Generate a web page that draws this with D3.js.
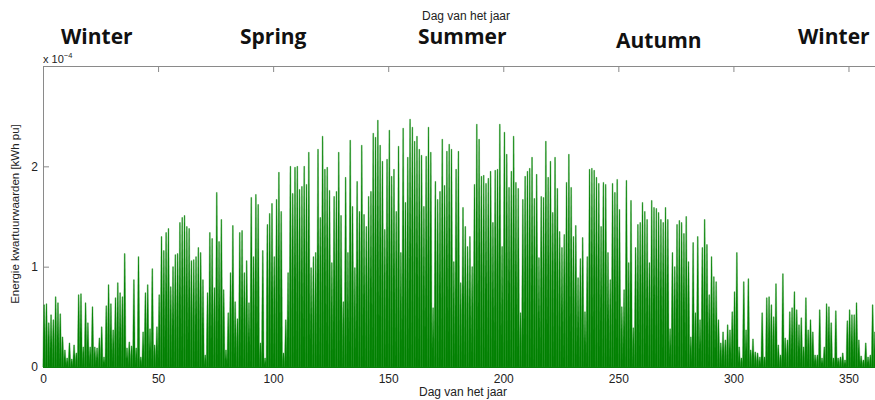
<!DOCTYPE html>
<html>
<head>
<meta charset="utf-8">
<script src="https://cdn.jsdelivr.net/npm/d3@7"></script>
<style>
  body { margin: 0; background: #fff; }
  svg { display: block; }
  .axis text { font-family: "Liberation Sans", Arial, sans-serif; font-size: 12px; fill: #222; }
  .axis path, .axis line { stroke: #8a8a8a; }
  .season { font-family: "Open Sans", sans-serif; font-weight: 700; font-size: 21px; fill: #111; }
  .lbl { font-family: "Liberation Sans", Arial, sans-serif; fill: #222; }
</style>
</head>
<body>
<svg width="875" height="400"></svg>
<script>
// daily peak energy, units of 1e-4 kWh pu
// days 0-70
let peaks1 = [0.62,0.63,0.44,0.52,0.47,0.70,0.64,0.53,0.30,0.17,
  0.09,0.24,0.08,0.22,0.14,0.72,0.73,0.20,0.64,0.44,
  0.20,0.60,0.20,0.19,0.29,0.40,0.10,0.61,0.82,0.63,
  0.37,0.69,0.84,0.74,0.70,1.13,0.19,0.25,0.21,0.87,
  0.19,1.10,0.10,0.35,0.74,0.82,0.38,0.98,0.22,0.40,
  0.72,1.30,1.16,1.34,1.38,0.80,1.00,1.12,1.13,1.44,
  1.49,1.51,1.40,1.38,1.06,1.07,1.10,1.19,1.14,0.87,
  0.12]
// days 71-143
let peaks2 = [0.74,1.34,1.28,0.79,1.74,1.25,1.47,0.77,0.17,0.54,
  0.94,1.41,0.65,0.48,1.34,1.36,0.94,1.06,0.64,1.69,
  1.10,1.72,1.62,0.24,1.16,0.09,1.42,1.53,1.63,1.10,
  1.67,1.94,1.55,0.14,0.47,0.94,2.00,1.73,1.99,2.00,
  1.77,1.80,2.00,1.82,2.14,0.99,1.10,1.14,2.17,1.49,
  2.30,1.97,1.99,1.76,1.04,1.70,1.75,2.14,1.51,0.65,
  1.89,1.14,2.26,1.60,0.99,1.85,1.55,2.21,1.52,1.40,
  1.70,1.75,2.33]
// days 144-215
let peaks3 = [2.29,2.46,2.21,2.05,1.37,2.07,2.36,1.90,1.97,1.55,
  2.20,1.14,2.38,1.64,2.09,2.47,2.39,2.25,2.30,2.17,
  2.11,1.60,2.10,2.39,2.14,0.59,1.85,1.67,1.75,2.27,
  1.81,2.15,2.22,2.17,1.05,1.97,2.15,0.84,1.59,1.40,
  1.20,1.30,1.00,1.82,2.42,2.27,1.90,1.91,1.83,1.88,
  1.95,1.44,1.96,1.97,2.42,1.20,2.34,2.12,1.79,1.95,
  2.30,1.84,1.78,0.54,1.67,1.90,1.95,1.98,2.09,1.68,
  1.92,1.09]
// days 216-286
let peaks4 = [1.70,1.69,2.25,1.89,2.05,1.54,2.09,1.78,1.35,1.19,
  1.32,1.84,2.12,1.79,1.30,1.41,0.89,1.08,1.29,0.55,
  1.10,1.97,1.98,1.96,1.89,1.83,1.40,1.84,1.82,1.14,
  0.87,1.83,1.74,1.87,1.57,0.60,0.77,1.86,1.04,1.66,
  0.39,1.19,1.42,1.44,1.64,1.55,1.47,1.04,1.66,1.59,
  1.58,1.54,1.47,1.44,1.59,1.47,0.38,1.14,1.00,1.42,
  1.46,1.44,1.33,1.50,1.05,0.30,1.24,0.54,1.30,0.47,
  1.19]
// days 287-364
let peaks5 = [1.47,1.22,0.72,1.10,0.90,0.85,0.47,0.24,0.35,0.27,
  0.42,0.37,0.55,0.75,1.14,0.20,0.09,0.85,0.37,0.88,
  0.17,0.28,0.15,0.14,0.10,0.54,0.10,0.69,0.70,0.62,
  0.50,0.83,0.22,0.12,0.93,0.29,0.27,0.55,0.59,0.75,
  0.57,0.42,0.49,0.20,0.69,0.37,0.47,0.35,0.12,0.12,
  0.57,0.09,0.20,0.63,0.60,0.44,0.09,0.56,0.09,0.10,
  0.14,0.07,0.46,0.57,0.52,0.52,0.64,0.27,0.11,0.07,
  0.24,0.10,0.12,0.62,0.35,0.18,0.41,0.22]

let xTicks = [0, 50, 100, 150, 200, 250, 300, 350]
let yTicks = [0, 1, 2]
let seasons = ["Winter", "Spring", "Summer", "Autumn", "Winter"]
let seasonX = [61, 240, 418, 616, 798]
let seasonY = [44, 44, 44, 48, 44]

let peaks = peaks1.concat(peaks2, peaks3, peaks4, peaks5)

const svg = d3.select("svg")
const x = d3.scaleLinear().domain([0, 365]).range([43, 883])
const y = d3.scaleLinear().domain([0, 3]).range([367, 66])

// frame
svg.append("g").attr("class", "axis")
    .attr("transform", "translate(0,66)")
    .call(d3.axisTop(x).tickValues(xTicks).tickSize(-6).tickSizeOuter(0).tickFormat(""))

svg.append("g").attr("class", "axis")
    .attr("transform", "translate(43,0)")
    .call(d3.axisLeft(y).tickValues(yTicks).tickSize(-6).tickSizeOuter(0).tickPadding(5).tickFormat(d3.format("d")))

let bottom = svg.append("g").attr("class", "axis")
    .attr("transform", "translate(0,367)")
    .call(d3.axisBottom(x).tickValues(xTicks).tickSize(-6).tickSizeOuter(0).tickPadding(7))
bottom.selectAll(".tick line").remove()

// one spike per day (the quarter-hour profile squeezed into ~2px),
// shoulders widen toward the base like the real daily curve
let spike = d3.line().x(d => x(d[0])).y(d => y(d[1]))
svg.append("g")
    .selectAll("path")
    .data(peaks)
    .join("path")
    .attr("d", (v, i) => spike([
        [i - 0.05, 0], [i + 0.08, v * 0.45], [i + 0.33, v],
        [i + 0.67, v], [i + 0.92, v * 0.45], [i + 1.05, 0]
    ]) + "Z")
    .attr("fill", "#008000")
    .attr("stroke", "#1f8f1f")
    .attr("stroke-width", 0.4)

// baseline over the green
svg.append("line")
    .attr("x1", 43).attr("x2", 875).attr("y1", 367.5).attr("y2", 367.5)
    .attr("stroke", "#0a800a").attr("stroke-width", 1)

// labels
svg.append("text").attr("class", "lbl")
    .attr("x", 466).attr("y", 20).attr("text-anchor", "middle")
    .attr("font-size", 12).text("Dag van het jaar")

svg.append("text").attr("class", "lbl")
    .attr("x", 463).attr("y", 396).attr("text-anchor", "middle")
    .attr("font-size", 12).text("Dag van het jaar")

svg.append("text").attr("class", "lbl")
    .attr("transform", "translate(19,214) rotate(-90)")
    .attr("text-anchor", "middle")
    .attr("font-size", 11.5).text("Energie kwartuurwaarden [kWh pu]")

let mult = svg.append("text").attr("class", "lbl")
    .attr("x", 43).attr("y", 63).attr("font-size", 11)
mult.append("tspan").text("x 10")
mult.append("tspan").attr("dy", -5).attr("font-size", 7.5).text("\u22124")

svg.selectAll(".season")
    .data(seasons)
    .join("text")
    .attr("class", "season")
    .attr("x", (d, i) => seasonX[i])
    .attr("y", (d, i) => seasonY[i])
    .text(d => d)
</script>
</body>
</html>
